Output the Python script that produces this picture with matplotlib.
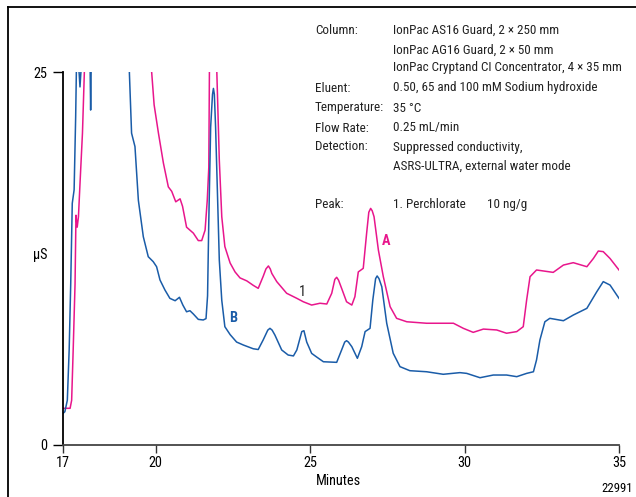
import matplotlib
matplotlib.use('Agg')
import matplotlib.pyplot as plt
from matplotlib import font_manager
from matplotlib.lines import Line2D

# trace A (pink), 10 points per row
minutes_a = [17.0, 17.23, 17.28, 17.33, 17.39, 17.42, 17.46, 17.50, 17.55, 17.63,
             17.69, 17.75, 19.80, 19.87, 19.95, 20.09, 20.25, 20.41, 20.52, 20.65,
             20.79, 20.87, 21.00, 21.22, 21.38, 21.49, 21.60, 21.67, 21.72, 21.74,
             21.86, 21.98, 22.06, 22.14, 22.24, 22.41, 22.57, 22.73, 22.95, 23.16,
             23.32, 23.48, 23.57, 23.65, 23.71, 23.76, 23.92, 24.24, 24.57, 24.78,
             25.05, 25.32, 25.54, 25.70, 25.80, 25.86, 25.92, 26.02, 26.18, 26.35,
             26.45, 26.56, 26.72, 26.83, 26.90, 26.96, 27.01, 27.07, 27.21, 27.37,
             27.59, 27.80, 28.13, 28.77, 29.64, 29.96, 30.28, 30.61, 31.04, 31.36,
             31.69, 31.90, 32.01, 32.12, 32.33, 32.87, 33.20, 33.52, 33.96, 34.17,
             34.33, 34.49, 34.71, 35.0]
us_a = [2.46, 2.46, 3.0, 6.4, 10.8, 15.4, 14.6, 15.3, 17.5, 20.9,
        24.9, 30, 30, 25.0, 22.8, 20.9, 18.9, 17.3, 17.0, 16.3,
        16.5, 16.0, 14.6, 14.2, 13.7, 13.7, 14.4, 16.4, 18.6, 25,
        30, 25, 19.1, 15.3, 13.3, 12.2, 11.6, 11.2, 11.0, 10.7,
        10.5, 11.3, 11.8, 12.0, 11.8, 11.5, 10.95, 10.17, 9.83, 9.6,
        9.38, 9.5, 9.45, 10.17, 11.1, 11.24, 11.05, 10.5, 9.6, 9.38,
        9.94, 11.6, 11.84, 14.2, 15.6, 15.86, 15.7, 15.3, 13.07, 11.28,
        9.27, 8.49, 8.26, 8.16, 8.16, 7.82, 7.55, 7.77, 7.71, 7.49,
        7.6, 7.93, 9.72, 11.28, 11.73, 11.57, 12.06, 12.22, 11.95, 12.5,
        13.0, 12.96, 12.5, 11.73]

# trace B (blue), 10 points per row
minutes_b = [17.0, 17.06, 17.14, 17.20, 17.25, 17.30, 17.36, 17.41, 17.44, 17.49,
             17.55, 17.61, 17.65, 17.86, 17.88, 17.895, 17.91, 17.93, 19.10, 19.15,
             19.22, 19.33, 19.44, 19.60, 19.76, 19.92, 20.03, 20.14, 20.30, 20.46,
             20.63, 20.77, 20.88, 21.00, 21.11, 21.22, 21.38, 21.54, 21.63, 21.68,
             21.72, 21.78, 21.84, 21.87, 21.90, 21.94, 22.00, 22.06, 22.14, 22.24,
             22.41, 22.62, 22.84, 23.16, 23.32, 23.48, 23.63, 23.70, 23.77, 23.86,
             24.08, 24.29, 24.46, 24.57, 24.73, 24.80, 24.89, 25.05, 25.21, 25.43,
             25.86, 26.02, 26.12, 26.18, 26.24, 26.35, 26.53, 26.67, 26.78, 26.94,
             27.03, 27.12, 27.17, 27.23, 27.32, 27.48, 27.69, 27.91, 28.23, 28.77,
             29.31, 29.85, 30.07, 30.50, 30.93, 31.36, 31.69, 32.01, 32.23, 32.33,
             32.44, 32.60, 32.76, 33.20, 33.52, 33.96, 34.28, 34.49, 34.71, 35.0]
us_b = [2.12, 2.23, 3.0, 6.4, 10.8, 16.2, 17.1, 22.0, 26, 26,
        24.0, 26, 30, 30, 25, 22.45, 25, 30, 30, 24.9,
        20.9, 20.0, 16.4, 13.96, 12.62, 12.29, 11.95, 11.06, 10.39, 9.83,
        9.67, 9.9, 9.38, 8.93, 9.0, 8.78, 8.42, 8.38, 8.47, 10.0,
        15.0, 21.3, 23.5, 23.9, 23.5, 21.3, 16.9, 12.4, 9.7, 7.93,
        7.4, 6.9, 6.7, 6.45, 6.4, 7.04, 7.7, 7.82, 7.7, 7.37,
        6.37, 6.03, 5.97, 6.37, 7.6, 7.66, 6.9, 6.14, 5.9, 5.58,
        5.54, 6.37, 6.9, 6.99, 6.9, 6.59, 5.81, 6.59, 7.6, 7.82,
        9.72, 11.15, 11.33, 11.15, 10.61, 8.16, 6.15, 5.25, 4.98, 4.91,
        4.74, 4.85, 4.8, 4.51, 4.69, 4.69, 4.58, 4.8, 4.91, 5.7,
        7.04, 8.26, 8.49, 8.33, 8.71, 9.16, 10.27, 10.95, 10.72, 9.83]

x_ticks = [17, 20, 25, 30, 35]
y_ticks = [0, 25]

cond_labels = ['Column:', 'Eluent:', 'Temperature:', 'Flow Rate:', 'Detection:', 'Peak:']
cond_values = ['IonPac AS16 Guard, 2 \u00d7 250 mm',
               'IonPac AG16 Guard, 2 \u00d7 50 mm',
               'IonPac Cryptand CI Concentrator, 4 \u00d7 35 mm',
               '0.50, 65 and 100 mM Sodium hydroxide',
               '35 \u00b0C',
               '0.25 mL/min',
               'Suppressed conductivity,',
               'ASRS-ULTRA, external water mode']

# pick a narrow face if one is installed
installed = {f.name for f in font_manager.fontManager.ttflist}
family = 'Liberation Sans'
for name in ['Roboto Condensed', 'DejaVu Sans Condensed', 'Liberation Sans Narrow',
             'Open Sans Condensed', 'Liberation Sans']:
    if name in installed:
        family = name
        break
plt.rcParams['font.family'] = [family, 'DejaVu Sans']

pink = '#E8168C'
blue = '#1A5CA8'
ink = '#222222'
W, H = 636, 497

fig = plt.figure(figsize=(6.36, 4.97), dpi=100)

# size the text so the longest condition line spans ~229 px like the reference
probe = fig.text(0, 0, cond_values[2], fontsize=10)
fig.canvas.draw()
wpx = probe.get_window_extent().width
probe.remove()
fs = min(11.0, 10 * 229 / wpx)

ax = fig.add_axes([63 / W, 1 - 445 / H, 556 / W, 373 / H])

ax.plot(minutes_a, us_a, color=pink, lw=1.1)
ax.plot(minutes_b, us_b, color=blue, lw=1.1)

ax.set_xlim(17, 35)
ax.set_ylim(0, 25)
ax.set_xticks(x_ticks)
ax.set_yticks(y_ticks)
ax.tick_params(axis='x', length=6, width=1, pad=2, labelsize=fs + 0.8, color='#333333')
ax.tick_params(axis='y', length=7, width=1, pad=4, labelsize=fs + 0.8)
ax.spines['top'].set_visible(False)
ax.spines['right'].set_visible(False)
ax.spines['bottom'].set_color('#444444')
ax.spines['bottom'].set_linewidth(1.3)
ax.spines['left'].set_linewidth(1.3)

ax.set_xlabel('Minutes', fontsize=fs + 0.8)
ax.xaxis.set_label_coords((338 - 63) / 556, -(481 - 445) / 373)
ax.xaxis.label.set_va('center')

ax.text(27.45, 13.7, 'A', color=pink, fontsize=fs + 0.8, fontweight='bold', ha='center', va='center')
ax.text(22.5, 8.5, 'B', color=blue, fontsize=fs + 0.8, fontweight='bold', ha='center', va='center')
ax.text(24.74, 10.25, '1', color=ink, fontsize=fs + 0.8, ha='center', va='center')

fig.text(40 / W, 1 - 255 / H, '\u03bcS', fontsize=fs + 0.8, ha='center', va='center')
fig.text(633 / W, 1 - 488 / H, '22991', fontsize=fs - 0.3, ha='right', va='center')

# conditions block
label_rows = [30, 88, 108, 128, 147, 205]
value_rows = [30, 50, 68, 88, 108, 128, 147, 166]
for lab, py in zip(cond_labels, label_rows):
    fig.text(315 / W, 1 - py / H, lab, fontsize=fs, ha='left', va='center', color=ink)
for val, py in zip(cond_values, value_rows):
    fig.text(393 / W, 1 - py / H, val, fontsize=fs, ha='left', va='center', color=ink)
fig.text(393 / W, 1 - 205 / H, '1. Perchlorate', fontsize=fs, ha='left', va='center', color=ink)
fig.text(487 / W, 1 - 205 / H, '10 ng/g', fontsize=fs, ha='left', va='center', color=ink)

# frame (top and left edges)
fig.add_artist(Line2D([8 / W, 1], [1 - 7 / H, 1 - 7 / H], color='black', lw=1.3))
fig.add_artist(Line2D([8 / W, 8 / W], [0, 1 - 7 / H], color='black', lw=1.3))

fig.savefig('out.png', dpi=100)
